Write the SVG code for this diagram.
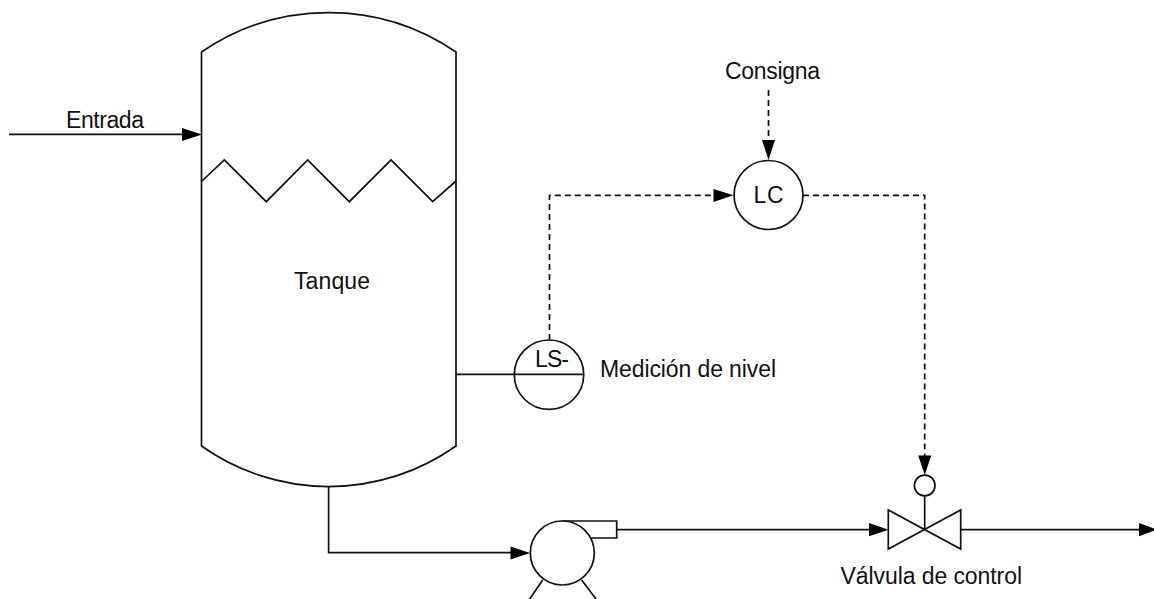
<svg xmlns="http://www.w3.org/2000/svg" width="1154" height="599" viewBox="0 0 1154 599">
<style>
.s{fill:none;stroke:#111;stroke-width:1.7}
.f{fill:#fff;stroke:#111;stroke-width:1.7}
.d{fill:none;stroke:#111;stroke-width:1.7;stroke-dasharray:6 4}
.a{fill:#000;stroke:none}
text{font-family:"Liberation Sans",Arial,sans-serif;font-size:23px;fill:#111}
</style>
<rect width="1154" height="599" fill="#fff"/>
<g id="connectors">
<path class="s" d="M9 134.4H190"/>
<polygon class="a" points="202,134.4 182,128 182,141"/>
<path class="s" d="M328.6 486V552.7H515"/>
<polygon class="a" points="530,553 510.500,546.500 510.500,559.500"/>
<path class="s" d="M617 529.700H875"/>
<polygon class="a" points="888.500,529.700 869,523 869,536.300"/>
<path class="s" d="M961 529.700H1145"/>
<polygon class="a" points="1157,529.700 1139,523 1139,536.300"/>
<path class="s" d="M456 374.400H514"/>
<path class="d" d="M549.500 340V195.300H720"/>
<polygon class="a" points="733.500,195.300 713.500,189 713.500,202"/>
<path class="d" d="M768.500 90V148"/>
<polygon class="a" points="768.500,160 762,140 775,140"/>
<path class="d" d="M803 195.300H924.700V465"/>
<polygon class="a" points="924.700,475 918.200,455.500 931.200,455.500"/>
</g>
<g id="tank">
<path class="f" d="M201.500 52A225 225 0 0 1 456 52V446A220 220 0 0 1 201.500 446Z"/>
<path class="s" d="M201.500 181.500L224.300 160L266.300 201.700L307.700 160L349.300 201.700L391 160L432.700 201.700L456 181"/>
<text x="294" y="289" textLength="76">Tanque</text>
</g>
<g id="entrada-label"><text x="66" y="127.500" textLength="78">Entrada</text></g>
<g id="level-sensor">
<circle class="f" cx="549" cy="374.700" r="34.700"/>
<path class="s" d="M514.300 374.400H583.700"/>
<text x="535" y="367" textLength="34">LS-</text>
<text x="600" y="376.700" textLength="176">Medición de nivel</text>
</g>
<g id="controller">
<circle class="f" cx="768.500" cy="195" r="34.500"/>
<text x="753.500" y="203" textLength="30">LC</text>
</g>
<g id="consigna"><text x="725" y="78.500" textLength="95">Consigna</text></g>
<g id="pump">
<path class="f" d="M562.300 521H616.700V538H590.700"/>
<circle class="f" cx="562.300" cy="553" r="32"/>
<path class="s" d="M542.700 580L529 600M581.700 580L596.700 600"/>
</g>
<g id="valve">
<circle class="f" cx="924.700" cy="485.500" r="10.300"/>
<path class="s" d="M924.700 496V529.500"/>
<path class="f" d="M888.300 510V549L960.700 510V549Z"/>
<text x="840.500" y="584" textLength="181.500">Válvula de control</text>
</g>
</svg>
